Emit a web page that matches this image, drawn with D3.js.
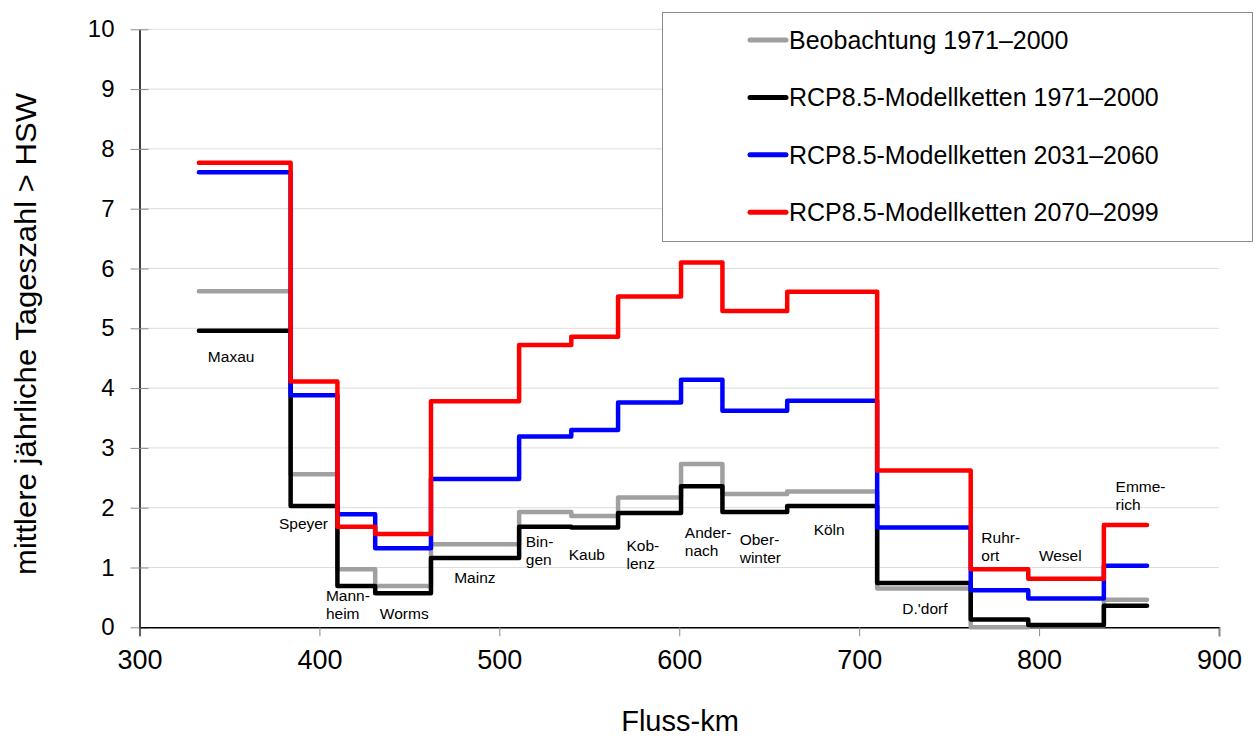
<!DOCTYPE html>
<html>
  <head>
    <title>Tageszahl > HSW entlang des Rheins</title>
    <meta charset="utf-8" />
    <style>
      body {
        margin: 0;
        background: #fff;
      }

      svg text {
        font-family: "Liberation Sans", Arial, sans-serif;
        fill: #000;
      }
    </style>
    <script src="https://d3js.org/d3.v7.min.js"></script>
  </head>
  <body>
    <div id="svganchor"></div>

    <script type="text/javascript">
      // Segment boundaries along the river (Fluss-km)
      var breaks = [333, 384, 410, 431, 462, 511, 540, 566, 601, 624, 660, 710, 762, 794, 836, 860];

      // mean number of days per year above HSW, one value per segment
      var beobachtung = [5.62, 2.56, 0.97, 0.69, 1.39, 1.93, 1.86, 2.17, 2.73, 2.23, 2.27, 0.65, 0.0, 0.03, 0.46];
      var rcp1971 = [4.96, 2.03, 0.69, 0.57, 1.16, 1.68, 1.67, 1.91, 2.36, 1.93, 2.03, 0.74, 0.13, 0.04, 0.36];
      var rcp2031 = [7.61, 3.88, 1.89, 1.32, 2.48, 3.19, 3.30, 3.76, 4.14, 3.62, 3.79, 1.67, 0.62, 0.48, 1.03];
      var rcp2070 = [7.77, 4.11, 1.68, 1.56, 3.78, 4.72, 4.86, 5.53, 6.10, 5.29, 5.61, 2.62, 0.97, 0.81, 1.71];

      var seriesNames = [
        "Beobachtung 1971–2000",
        "RCP8.5-Modellketten 1971–2000",
        "RCP8.5-Modellketten 2031–2060",
        "RCP8.5-Modellketten 2070–2099",
      ];
      var seriesColors = ["#a0a0a0", "#000000", "#0000ff", "#ff0000"];

      // gauge labels (lines) and their anchor in data units
      var stations = [
        ["Maxau"], ["Speyer"], ["Mann-", "heim"], ["Worms"], ["Mainz"], ["Bin-", "gen"],
        ["Kaub"], ["Kob-", "lenz"], ["Ander-", "nach"], ["Ober-", "winter"], ["Köln"],
        ["D.'dorf"], ["Ruhr-", "ort"], ["Wesel"], ["Emme-", "rich"],
      ];
      var stationKm = [338, 377.5, 403.6, 433.6, 474.9, 514.7, 538.6, 570.7, 603.1, 633.6, 674.7, 724, 767.9, 799.9, 842.5];
      var stationVal = [4.44, 1.64, 0.44, 0.14, 0.74, 1.35, 1.13, 1.28, 1.5, 1.38, 1.54, 0.23, 1.41, 1.11, 2.26];

      var xTicks = [300, 400, 500, 600, 700, 800, 900];
      var yTicks = [0, 1, 2, 3, 4, 5, 6, 7, 8, 9, 10];

      //Width and height
      var w = 1256;
      var h = 740;

      var x = d3.scaleLinear().domain([300, 900]).range([139.5, 1219]);
      var y = d3.scaleLinear().domain([0, 10]).range([627.3, 29.3]);

      var svg = d3
        .select("#svganchor")
        .append("svg")
        .attr("width", w)
        .attr("height", h);

      // horizontal gridlines
      svg
        .append("g")
        .selectAll("line")
        .data(yTicks.slice(1))
        .enter()
        .append("line")
        .attr("x1", x(300))
        .attr("x2", x(900))
        .attr("y1", function (d) { return y(d); })
        .attr("y2", function (d) { return y(d); })
        .attr("stroke", "#dcdcdc")
        .attr("stroke-width", 1);

      // y axis (ticks cross the axis line)
      var yAxis = svg
        .append("g")
        .attr("transform", "translate(" + x(300) + ",0)")
        .call(d3.axisLeft(y).tickValues(yTicks).tickSize(0).tickPadding(25));
      yAxis.select(".domain").attr("stroke", "#000").attr("stroke-width", 1.5);
      yAxis.selectAll("text").attr("font-size", 24).attr("font-family", null);
      yAxis
        .selectAll(".tick")
        .append("line")
        .attr("x1", -9)
        .attr("x2", 9)
        .attr("stroke", "#8c8c8c");

      // x axis
      var xAxis = svg
        .append("g")
        .attr("transform", "translate(0," + y(0) + ")")
        .call(d3.axisBottom(x).tickValues(xTicks).tickSize(9).tickPadding(14));
      xAxis.select(".domain").attr("stroke", "#000").attr("stroke-width", 1.5);
      xAxis.selectAll(".tick line").attr("stroke", "#8c8c8c");
      xAxis.selectAll("text").attr("font-size", 27).attr("font-family", null);

      // axis titles
      svg
        .append("text")
        .attr("x", 680)
        .attr("y", 731)
        .attr("text-anchor", "middle")
        .attr("font-size", 29)
        .text("Fluss-km");

      svg
        .append("text")
        .attr("transform", "translate(36,334)rotate(-90)")
        .attr("text-anchor", "middle")
        .attr("font-size", 29)
        .attr("textLength", 482)
        .attr("lengthAdjust", "spacingAndGlyphs")
        .text("mittlere jährliche Tageszahl > HSW");

      // step lines
      var line = d3
        .line()
        .x(function (d) { return x(d[0]); })
        .y(function (d) { return y(d[1]); })
        .curve(d3.curveStepAfter);

      function stepPoints(vals) {
        var pts = vals.map(function (v, i) { return [breaks[i], v]; });
        pts.push([breaks[breaks.length - 1], vals[vals.length - 1]]);
        return pts;
      }

      var allSeries = [beobachtung, rcp1971, rcp2031, rcp2070];

      svg
        .append("g")
        .selectAll("path")
        .data(allSeries)
        .enter()
        .append("path")
        .attr("d", function (d) { return line(stepPoints(d)); })
        .attr("fill", "none")
        .attr("stroke", function (d, i) { return seriesColors[i]; })
        .attr("stroke-width", 4.5)
        .attr("stroke-linejoin", "round")
        .attr("stroke-linecap", "round");

      // station labels
      var labels = svg
        .append("g")
        .selectAll("text")
        .data(stations)
        .enter()
        .append("text")
        .attr("font-size", 15.5)
        .attr("x", function (d, i) { return x(stationKm[i]); })
        .attr("y", function (d, i) { return y(stationVal[i]); });

      labels
        .selectAll("tspan")
        .data(function (d) { return d; })
        .enter()
        .append("tspan")
        .attr("x", function () { return this.parentNode.getAttribute("x"); })
        .attr("dy", function (d, i) { return i === 0 ? 0 : 18; })
        .text(function (d) { return d; });

      // legend
      var legend = svg.append("g");
      legend
        .append("rect")
        .attr("x", 662.5)
        .attr("y", 12.5)
        .attr("width", 590)
        .attr("height", 229)
        .attr("fill", "#fff")
        .attr("stroke", "#8c8c8c")
        .attr("stroke-width", 1);

      var items = legend
        .selectAll(".item")
        .data(seriesNames)
        .enter()
        .append("g")
        .attr("class", "item")
        .attr("transform", function (d, i) {
          return "translate(0," + (40 + i * 57.4) + ")";
        });

      items
        .append("line")
        .attr("x1", 750)
        .attr("x2", 786)
        .attr("stroke", function (d, i) { return seriesColors[i]; })
        .attr("stroke-width", 5)
        .attr("stroke-linecap", "round");

      items
        .append("text")
        .attr("x", 789)
        .attr("dy", "0.35em")
        .attr("font-size", 25)
        .text(function (d) { return d; });
    </script>
  </body>
</html>
